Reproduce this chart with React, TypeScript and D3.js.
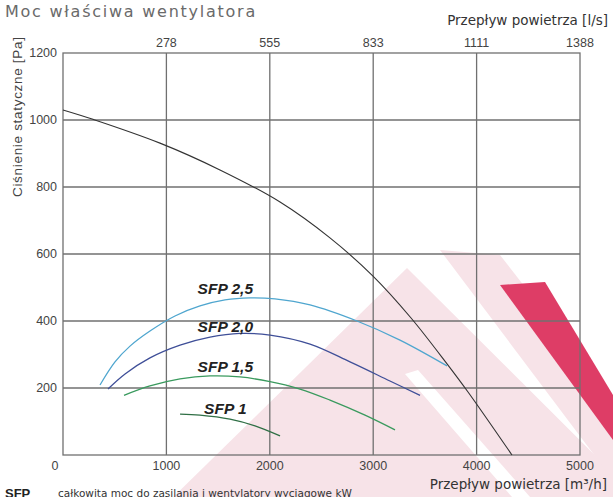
import React from "react";
import * as d3 from "d3";

const W = 613;
const H = 497;

const xTicks = [0, 1000, 2000, 3000, 4000, 5000];
const xTickLabels = ["0", "1000", "2000", "3000", "4000", "5000"];
const topTickLabels = ["278", "555", "833", "1111", "1388"];
const yTicks = [200, 400, 600, 800, 1000, 1200];

// fan curve [m3/h, Pa]
const fanFlow = [0, 290, 938, 1518, 2099, 2582, 2998, 3366, 3714, 3917, 4342];
const fanPressure = [1030, 1002, 931, 851, 755, 648, 534, 409, 272, 188, 0];

const sfp25Flow = [358, 503, 648, 841, 1083, 1325, 1567, 1809, 2050, 2389, 2843, 3259, 3714];
const sfp25Pressure = [209, 278, 325, 370, 415, 445, 463, 469, 466, 448, 400, 343, 266];

const sfp20Flow = [435, 600, 841, 1132, 1422, 1712, 2002, 2389, 2776, 3162, 3453];
const sfp20Pressure = [197, 242, 290, 328, 352, 363, 358, 331, 278, 221, 178];

const sfp15Flow = [590, 841, 1132, 1422, 1712, 2002, 2292, 2582, 2921, 3211];
const sfp15Pressure = [178, 206, 227, 236, 233, 219, 197, 164, 119, 75];

const sfp10Flow = [1132, 1325, 1615, 1857, 2099];
const sfp10Pressure = [122, 119, 107, 87, 57];

const sfpLabels = ["SFP 2,5", "SFP 2,0", "SFP 1,5", "SFP 1"];
const sfpLabelFlow = [1570, 1570, 1570, 1570];
const sfpLabelPressure = [480, 367, 247, 122];

export default function App() {
  const x = d3.scaleLinear().domain([0, 5000]).range([63, 580]);
  const y = d3.scaleLinear().domain([0, 1200]).range([455, 53]);
  const line = d3
    .line<[number, number]>()
    .x((d) => x(d[0]))
    .y((d) => y(d[1]))
    .curve(d3.curveCatmullRom.alpha(0.5));
  const zip = (a: number[], b: number[]) => a.map((v, i) => [v, b[i]] as [number, number]);
  const grid = "#707070";
  const series = [
    { d: zip(sfp25Flow, sfp25Pressure), c: "#4fa6cf" },
    { d: zip(sfp20Flow, sfp20Pressure), c: "#3f4f98" },
    { d: zip(sfp15Flow, sfp15Pressure), c: "#3a9a5e" },
    { d: zip(sfp10Flow, sfp10Pressure), c: "#2f6f45" },
  ];
  return (
    <svg width={W} height={H} style={{ position: "absolute", left: 0, top: 0, background: "#fff" }}>
      {/* watermark */}
      <g>
        <polygon points="407,268 650,510 160,510" fill="#f7e3e8" />
        <polygon points="405,374 418,370 530,497 512,497" fill="#ffffff" />
        <polygon points="440,250 500,255 613,400 613,480" fill="#f7e3e8" />
        <polygon points="500,285 545,282 613,395 613,440" fill="#de3d66" />
      </g>
      {/* grid */}
      {xTicks.slice(1, -1).map((t) => (
        <line key={"vx" + t} x1={x(t)} x2={x(t)} y1={y(0)} y2={y(1200)} stroke={grid} strokeWidth={1.3} />
      ))}
      {yTicks.slice(0, -1).map((t) => (
        <line key={"hy" + t} x1={x(0)} x2={x(5000)} y1={y(t)} y2={y(t)} stroke={grid} strokeWidth={1.3} />
      ))}
      <rect x={x(0)} y={y(1200)} width={x(5000) - x(0)} height={y(0) - y(1200)} fill="none" stroke={grid} strokeWidth={1.3} />
      {/* curves */}
      <path d={line(zip(fanFlow, fanPressure)) || ""} fill="none" stroke="#333" strokeWidth={1.1} />
      {series.map((s, i) => (
        <path key={i} d={line(s.d) || ""} fill="none" stroke={s.c} strokeWidth={1.3} />
      ))}
      {sfpLabels.map((l, i) => (
        <text key={l} x={x(sfpLabelFlow[i])} y={y(sfpLabelPressure[i])} textAnchor="middle" fontFamily="Liberation Sans" fontWeight="bold" fontStyle="italic" fontSize={15.5} fill="#222">
          {l}
        </text>
      ))}
      {/* y tick labels */}
      {yTicks.map((t) => (
        <text key={"yl" + t} x={57} y={y(t)} dy="0.35em" textAnchor="end" fontFamily="Liberation Sans" fontSize={12.5} fill="#444">
          {t}
        </text>
      ))}
      {/* x tick labels */}
      {xTicks.map((t, i) => (
        <text key={"xl" + t} x={i === 0 ? x(t) - 8 : x(t)} y={470} textAnchor="middle" fontFamily="Liberation Sans" fontSize={12.5} fill="#444">
          {xTickLabels[i]}
        </text>
      ))}
      {/* top tick labels */}
      {topTickLabels.map((l, i) => (
        <text key={"tl" + l} x={x(xTicks[i + 1])} y={47} textAnchor="middle" fontFamily="Liberation Sans" fontSize={12.5} fill="#444">
          {l}
        </text>
      ))}
      <text x={5} y={17} fontFamily="DejaVu Sans" fontSize={16} letterSpacing={1.75} fill="#6a6a6a">
        Moc właściwa wentylatora
      </text>
      <text x={608} y={25} textAnchor="end" fontFamily="DejaVu Sans" fontSize={13.5} fill="#333">
        Przepływ powietrza [l/s]
      </text>
      <text x={607} y={489} textAnchor="end" fontFamily="DejaVu Sans" fontSize={13.5} fill="#333">
        Przepływ powietrza [m³/h]
      </text>
      <text transform="translate(22,197) rotate(-90)" fontFamily="Liberation Sans" fontSize={13.5} textLength={160} lengthAdjust="spacing" fill="#444">
        Ciśnienie statyczne [Pa]
      </text>
      <text x={5} y={498} fontFamily="Liberation Sans" fontWeight="bold" fontSize={13} fill="#222">
        SFP
      </text>
      <text x={58} y={497} fontFamily="DejaVu Sans" fontSize={10.5} fill="#333">
        całkowita moc do zasilania i wentylatory wyciągowe kW
      </text>
    </svg>
  );
}
